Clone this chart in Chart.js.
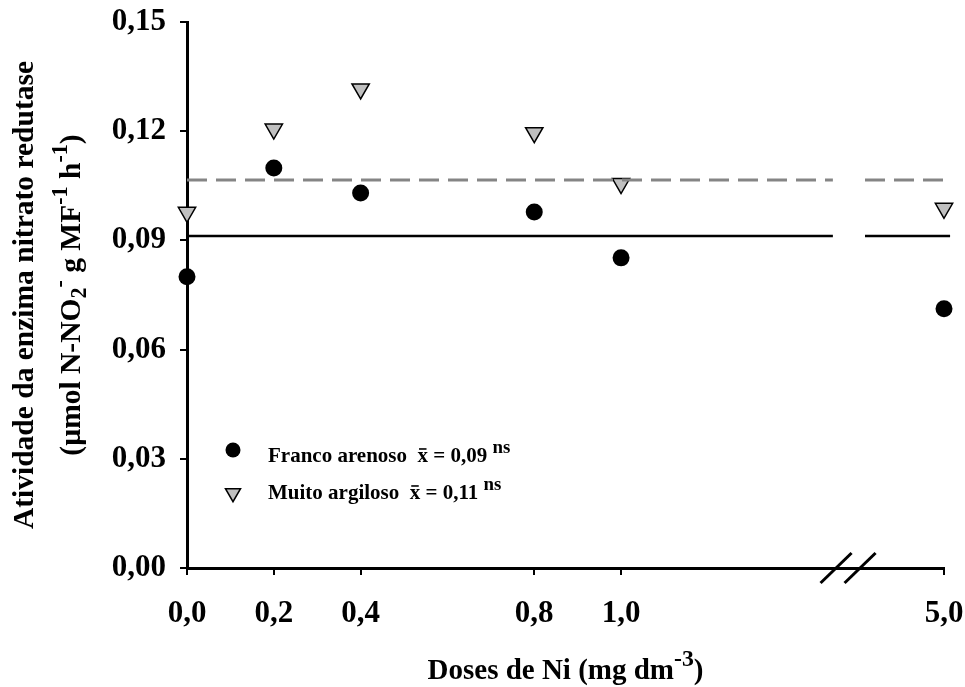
<!DOCTYPE html>
<html lang="pt">
<head>
    <meta charset="UTF-8">
    <title>Atividade da enzima nitrato redutase</title>
    <script src="https://cdn.jsdelivr.net/npm/chart.js"></script>
    <style>
        html, body { margin: 0; padding: 0; background: #fff; }
        #grafico { width: 965px; height: 687px; }
    </style>
</head>
<body>
    <div id="grafico">
        <canvas id="nitratoChart" width="965" height="687"></canvas>
    </div>

    <script>
        // Doses de Ni e rótulos do eixo X
        const doses = [0, 0.2, 0.4, 0.8, 1.0, 5.0];
        const rotulosDoses = ['0,0', '0,2', '0,4', '0,8', '1,0', '5,0'];

        // Atividade da NR (µmol N-NO2- g MF-1 h-1) por tipo de solo
        const francoArenoso = [0.0800, 0.1099, 0.1030, 0.0978, 0.0852, 0.0712];
        const muitoArgiloso = [0.0977, 0.1206, 0.1316, 0.1196, 0.1056, 0.0988];

        // Médias (linhas horizontais)
        const mediaFranco = 0.0912;
        const mediaArgiloso = 0.1066;

        const ticksY = [0, 0.03, 0.06, 0.09, 0.12, 0.15];

        // Eixo X quebrado: 0 a 1 em escala linear, a dose 5,0 vem depois da quebra
        const POS_QUEBRA = 1.523;
        const POS_ULTIMA = 1.744;
        function posX(d) {
            return d <= 1 ? d : POS_ULTIMA + (d - 5) * 0.05;
        }

        // Linha de média com intervalo na quebra do eixo
        function linhaMedia(valor) {
            return [
                { x: 0, y: valor },
                { x: POS_QUEBRA - 0.035, y: valor },
                { x: POS_QUEBRA, y: null },
                { x: POS_QUEBRA + 0.039, y: valor },
                { x: POS_ULTIMA + 0.014, y: valor }
            ];
        }

        const FONTE = "'Liberation Serif', 'Times New Roman', serif";

        // Escreve trechos com sobrescrito/subscrito; retorna a largura total
        function textoRico(ctx, partes, x, y, tam, medir, fSup) {
            const fs = fSup || 0.75;
            let cx = x;
            partes.forEach(([txt, tipo]) => {
                let t = tam, dy = 0;
                if (tipo === 'sup') { t = tam * fs; dy = -tam * 0.45; }
                if (tipo === 'sub') { t = tam * 0.75; dy = tam * 0.22; }
                ctx.font = 'bold ' + t + 'px ' + FONTE;
                const w = ctx.measureText(txt).width;
                if (!medir) {
                    ctx.fillText(txt, cx, y + dy);
                    if (tipo === 'barra') {
                        ctx.save();
                        ctx.lineWidth = 1.6;
                        ctx.beginPath();
                        ctx.moveTo(cx + 1.5, y - tam * 0.62);
                        ctx.lineTo(cx + w - 1.5, y - tam * 0.62);
                        ctx.stroke();
                        ctx.restore();
                    }
                }
                cx += w;
            });
            return cx - x;
        }

        function textoCentrado(ctx, partes, cx, y, tam, fSup) {
            const w = textoRico(ctx, partes, 0, 0, tam, true, fSup);
            textoRico(ctx, partes, cx - w / 2, y, tam, false, fSup);
        }

        // Títulos dos eixos, legenda e marca de quebra
        const extras = {
            id: 'extras',
            afterDraw(chart) {
                const ctx = chart.ctx;
                const area = chart.chartArea;
                const sx = chart.scales.x;
                const meioY = (area.top + area.bottom) / 2;
                const meioX = (area.left + area.right) / 2;

                ctx.save();
                ctx.fillStyle = '#000';
                ctx.strokeStyle = '#000';
                ctx.textBaseline = 'alphabetic';
                ctx.textAlign = 'left';

                // Título Y (duas linhas, girado)
                ctx.save();
                ctx.translate(33, meioY);
                ctx.rotate(-Math.PI / 2);
                textoCentrado(ctx, [['Atividade da enzima nitrato redutase', 'n']], 0, 0, 29.5);
                ctx.restore();

                ctx.save();
                ctx.translate(80, meioY);
                ctx.rotate(-Math.PI / 2);
                textoCentrado(ctx, [
                    ['(µmol N-NO', 'n'], ['2', 'sub'], ['-', 'sup'],
                    [' g MF', 'n'], ['-1', 'sup'], [' h', 'n'], ['-1', 'sup'], [')', 'n']
                ], 0, 0, 29.5);
                ctx.restore();

                // Título X
                textoCentrado(ctx, [['Doses de Ni (mg dm', 'n'], ['-3', 'sup'], [')', 'n']], meioX, 679, 29, 0.82);

                // Legenda
                const lx = area.left + 46;
                ctx.beginPath();
                ctx.arc(lx, 450, 7.5, 0, Math.PI * 2);
                ctx.fill();
                textoRico(ctx, [['Franco arenoso  ', 'n'], ['x', 'barra'], [' = 0,09 ', 'n'], ['ns', 'sup']], lx + 35, 462, 21, false, 0.9);

                const r = 8.7;
                ctx.beginPath();
                ctx.moveTo(lx - r * 0.866, 493 - r / 2);
                ctx.lineTo(lx + r * 0.866, 493 - r / 2);
                ctx.lineTo(lx, 493 + r);
                ctx.closePath();
                ctx.fillStyle = '#c0c0c0';
                ctx.fill();
                ctx.lineWidth = 1.5;
                ctx.stroke();
                ctx.fillStyle = '#000';
                textoRico(ctx, [['Muito argiloso  ', 'n'], ['x', 'barra'], [' = 0,11 ', 'n'], ['ns', 'sup']], lx + 35, 499, 21, false, 0.9);

                // Quebra do eixo X
                const xq = sx.getPixelForValue(POS_QUEBRA);
                const yq = area.bottom;
                ctx.lineWidth = 3;
                [-12, 12].forEach(off => {
                    ctx.beginPath();
                    ctx.moveTo(xq + off - 15.5, yq + 15);
                    ctx.lineTo(xq + off + 15.5, yq - 15);
                    ctx.stroke();
                });

                ctx.restore();
            }
        };

        const ctx = document.getElementById('nitratoChart').getContext('2d');
        const grafico = new Chart(ctx, {
            type: 'scatter',
            data: {
                datasets: [
                    {
                        label: 'Média muito argiloso',
                        type: 'line',
                        data: linhaMedia(mediaArgiloso),
                        borderColor: '#858585',
                        borderWidth: 3,
                        borderDash: [20, 9],
                        pointRadius: 0,
                        spanGaps: false,
                        clip: false
                    },
                    {
                        label: 'Média franco arenoso',
                        type: 'line',
                        data: linhaMedia(mediaFranco),
                        borderColor: '#000',
                        borderWidth: 2.5,
                        pointRadius: 0,
                        spanGaps: false,
                        clip: false
                    },
                    {
                        label: 'Muito argiloso',
                        data: doses.map((d, i) => ({ x: posX(d), y: muitoArgiloso[i] })),
                        pointStyle: 'triangle',
                        rotation: 180,
                        pointRadius: 10,
                        backgroundColor: '#c0c0c0',
                        borderColor: '#000',
                        borderWidth: 1.5,
                        clip: false
                    },
                    {
                        label: 'Franco arenoso',
                        data: doses.map((d, i) => ({ x: posX(d), y: francoArenoso[i] })),
                        pointStyle: 'circle',
                        pointRadius: 8.5,
                        backgroundColor: '#000',
                        borderColor: '#000',
                        borderWidth: 0,
                        clip: false
                    }
                ]
            },
            options: {
                responsive: false,
                animation: false,
                layout: { padding: { top: 22, right: 21, left: 0, bottom: 0 } },
                plugins: {
                    legend: { display: false },
                    tooltip: { enabled: false }
                },
                scales: {
                    x: {
                        type: 'linear',
                        min: 0,
                        max: POS_ULTIMA,
                        afterFit: s => {
                            s.height = 119;
                            s.paddingLeft = 0;
                            s.paddingRight = 0;
                        },
                        afterBuildTicks: s => { s.ticks = doses.map(d => ({ value: posX(d) })); },
                        border: { display: true, color: '#000', width: 3 },
                        grid: { drawOnChartArea: false, drawTicks: true, tickLength: 7, color: '#000', lineWidth: 2 },
                        ticks: {
                            autoSkip: false,
                            maxRotation: 0,
                            padding: 20,
                            color: '#000',
                            font: { family: FONTE, weight: 'bold', size: 31 },
                            callback: (v, i) => rotulosDoses[i]
                        }
                    },
                    y: {
                        min: 0,
                        max: 0.15,
                        afterFit: s => {
                            s.width = 187;
                            s.paddingTop = 0;
                            s.paddingBottom = 0;
                        },
                        afterBuildTicks: s => { s.ticks = ticksY.map(v => ({ value: v })); },
                        border: { display: true, color: '#000', width: 3 },
                        grid: { drawOnChartArea: false, drawTicks: true, tickLength: 7, color: '#000', lineWidth: 2 },
                        ticks: {
                            padding: 14,
                            color: '#000',
                            font: { family: FONTE, weight: 'bold', size: 31 },
                            callback: v => v.toFixed(2).replace('.', ',')
                        }
                    }
                }
            },
            plugins: [extras]
        });
    </script>
</body>
</html>
